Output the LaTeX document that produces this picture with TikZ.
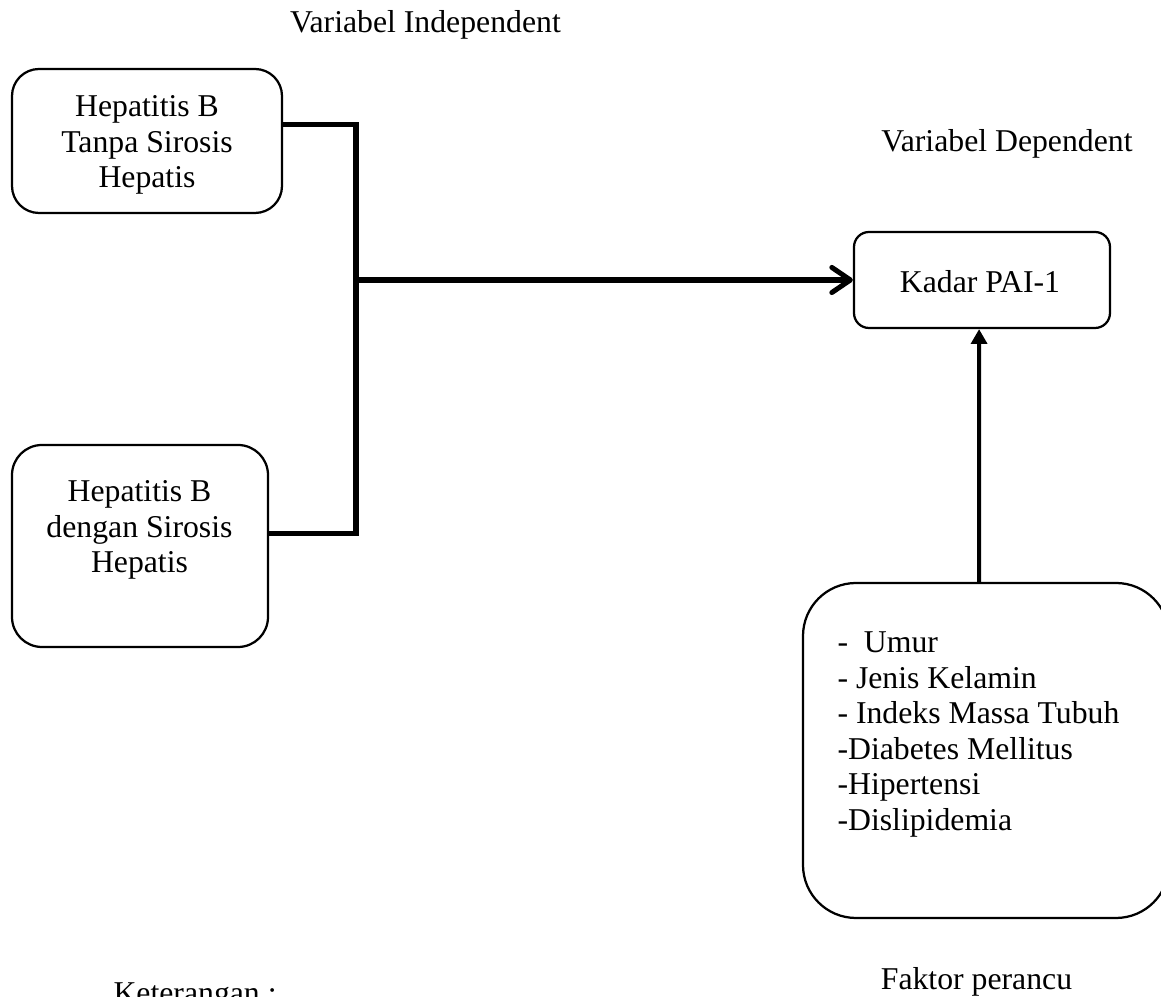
\documentclass[tikz,border=0pt]{standalone}
\usepackage{fontspec}
\setmainfont{Liberation Serif}
\usetikzlibrary{arrows.meta}
\newcommand{\kotak}[6]{\node[kotak, rounded corners=#6*0.378pt, minimum width={(#4-#2)*0.378pt}, minimum height={(#5-#3)*0.378pt}] (#1) at ({(#2+#4)/2},{(#3+#5)/2}) {};}
\newcommand{\judul}[3]{\node[teks, anchor=base] (#1) at (#2) {#3};}

\begin{document}
\begin{tikzpicture}[x=0.378pt, y=-0.378pt,
    kotak/.style={draw, line width=0.85pt, inner sep=0pt},
    teks/.style={inner sep=0pt, font=\fontsize{12}{13.4}\selectfont},
    garis/.style={line width=1.9pt},
    panahbuka/.style={garis, -{Straight Barb[length=7pt, width=9.5pt, round]}},
    panahisi/.style={line width=1.5pt, -{Triangle[length=5.6pt, width=6pt]}}]
        \useasboundingbox (0,0) rectangle (1161,997);
        \clip (0,0) rectangle (1161,997);
        % boxes
        \kotak{hbtanpa}{12}{69}{282}{213}{27}
        \kotak{hbsirosis}{12}{445}{268}{647}{30}
        \kotak{kadar}{854}{232}{1110}{328}{15}
        \kotak{faktor}{803}{583}{1169}{918}{53}
        % box texts
        \node[teks, align=center] (teks1) at (147,145.3) {Hepatitis B\\Tanpa Sirosis\\Hepatis};
        \node[teks, align=center] (teks2) at (139.5,530.3) {Hepatitis B\\dengan Sirosis\\Hepatis};
        \judul{tekskadar}{980,293}{Kadar PAI-1}
        \node[teks, align=left, anchor=west] (daftar) at (837,734.5) {-\ \ Umur\\- Jenis Kelamin\\- Indeks Massa Tubuh\\-Diabetes Mellitus\\-Hipertensi\\-Dislipidemia};
        % titles
        \judul{indep}{425.5,33}{Variabel Independent}
        \judul{dep}{1007,152}{Variabel Dependent}
        \judul{perancu}{976.5,990}{Faktor perancu}
        \node[teks, anchor=base west] (ket) at (113,1004) {Keterangan :};
        % lines
        \coordinate (simpang) at (356,280);
        \draw[garis] ([yshift=6.4pt]hbtanpa.east) -| (simpang) |- ([yshift=4.9pt]hbsirosis.east);
        \draw[panahbuka] (simpang) -- (kadar.west);
        \draw[panahisi] ([xshift=-2.6pt]faktor.north) -- ([xshift=-1.1pt]kadar.south);
\end{tikzpicture}
\end{document}
